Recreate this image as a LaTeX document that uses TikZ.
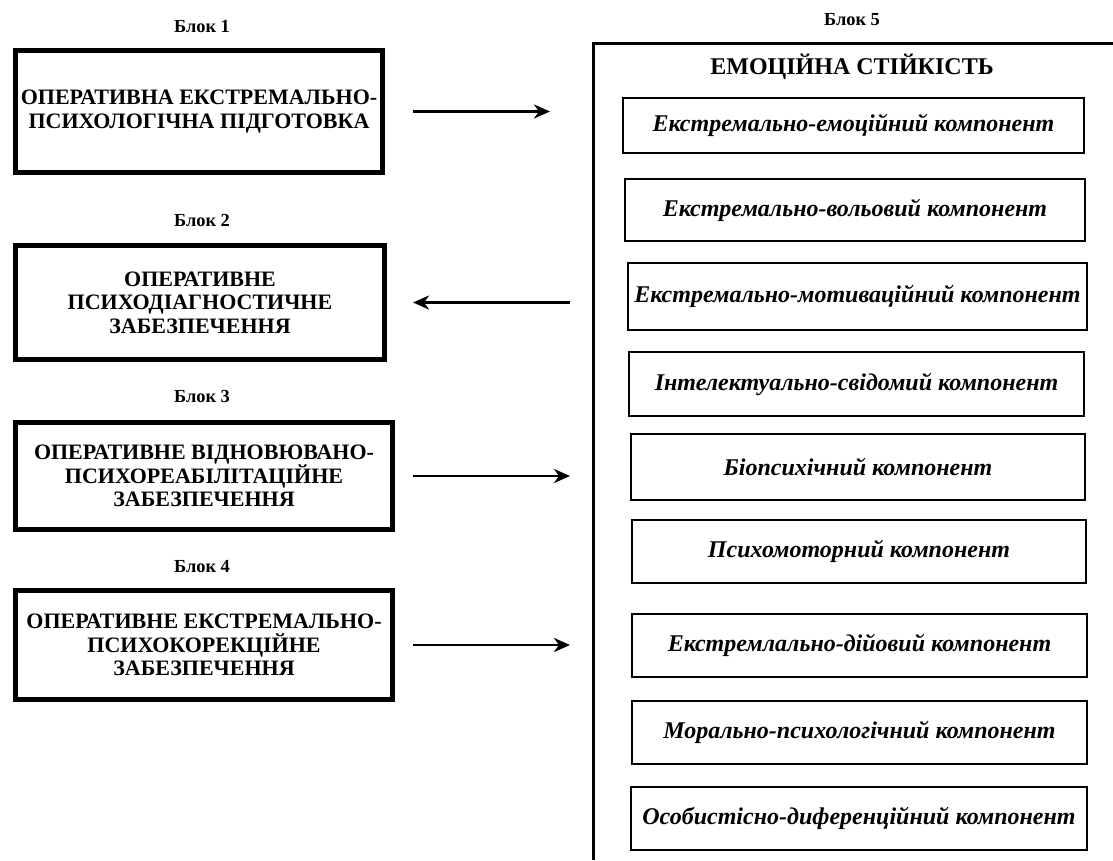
\documentclass[tikz,border=0pt]{standalone}
\usepackage{fontspec}
\setmainfont{Liberation Serif}
\usetikzlibrary{arrows.meta}
\begin{document}
\begin{tikzpicture}[x=1pt,y=-1pt,
  blk/.style={draw, line width=5pt, inner sep=0pt, align=center,
    font=\bfseries\fontsize{22}{23.5}\selectfont},
  lbl/.style={anchor=base, font=\bfseries\fontsize{18.4}{20}\selectfont},
  ttl/.style={anchor=base, font=\bfseries\fontsize{24}{26}\selectfont},
  comp/.style={draw, line width=1.6pt, inner sep=0pt,
    font=\bfseries\itshape\fontsize{24}{28}\selectfont},
  frame/.style={line width=3pt},
  arr/.style={line width=2.8pt, -{Stealth[length=16pt,width=14pt,inset=5pt]}}]
\useasboundingbox (0,0) rectangle (1113,860);

% left blocks
\node[lbl] (l1) at (202,32) {Блок 1};
\node[blk, minimum width=367pt, minimum height=122pt] (b1) at (199,111.5)
  {ОПЕРАТИВНА ЕКСТРЕМАЛЬНО-\\ПСИХОЛОГІЧНА ПІДГОТОВКА};
\node[lbl] (l2) at (202,226) {Блок 2};
\node[blk, minimum width=369pt, minimum height=114pt] (b2) at (200,302.5)
  {ОПЕРАТИВНЕ\\ПСИХОДІАГНОСТИЧНЕ\\ЗАБЕЗПЕЧЕННЯ};
\node[lbl] (l3) at (202,402) {Блок 3};
\node[blk, minimum width=377pt, minimum height=107pt] (b3) at (204,476)
  {ОПЕРАТИВНЕ ВІДНОВЮВАНО-\\ПСИХОРЕАБІЛІТАЦІЙНЕ\\ЗАБЕЗПЕЧЕННЯ};
\node[lbl] (l4) at (202,572) {Блок 4};
\node[blk, minimum width=377pt, minimum height=109pt] (b4) at (204,645)
  {ОПЕРАТИВНЕ ЕКСТРЕМАЛЬНО-\\ПСИХОКОРЕКЦІЙНЕ\\ЗАБЕЗПЕЧЕННЯ};

% block 5
\node[lbl] (l5) at (852,25) {Блок 5};
\draw[frame] (1113,43) -- (593,43) -- (593,860);
\node[ttl] (t5) at (852,74) {ЕМОЦІЙНА СТІЙКІСТЬ};
\node[comp, minimum width=461pt, minimum height=55pt] (c1) at (853.5,125.5) {Екстремально-емоційний компонент};
\node[comp, minimum width=460pt, minimum height=62pt] (c2) at (855,210) {Екстремально-вольовий компонент};
\node[comp, minimum width=459pt, minimum height=67pt] (c3) at (857.5,296.5) {Екстремально-мотиваційний компонент};
\node[comp, minimum width=455pt, minimum height=64pt] (c4) at (856.5,384) {Інтелектуально-свідомий компонент};
\node[comp, minimum width=454pt, minimum height=66pt] (c5) at (858,467) {Біопсихічний компонент};
\node[comp, minimum width=454pt, minimum height=63pt] (c6) at (859,551.5) {Психомоторний компонент};
\node[comp, minimum width=455pt, minimum height=63pt] (c7) at (859.5,645.5) {Екстремлально-дійовий компонент};
\node[comp, minimum width=455pt, minimum height=63pt] (c8) at (859.5,732.5) {Морально-психологічний компонент};
\node[comp, minimum width=456pt, minimum height=63pt] (c9) at (859,818.5) {Особистісно-диференційний компонент};

% arrows
\coordinate (xs) at (413,0);
\coordinate (xe1) at (550,0);
\coordinate (xe) at (570,0);
\draw[arr] (b1 -| xs) -- (b1 -| xe1);
\draw[arr] (b2 -| xe) -- (b2 -| xs);
\draw[arr] (b3 -| xs) -- (b3 -| xe);
\draw[arr] (b4 -| xs) -- (b4 -| xe);
\end{tikzpicture}
\end{document}
